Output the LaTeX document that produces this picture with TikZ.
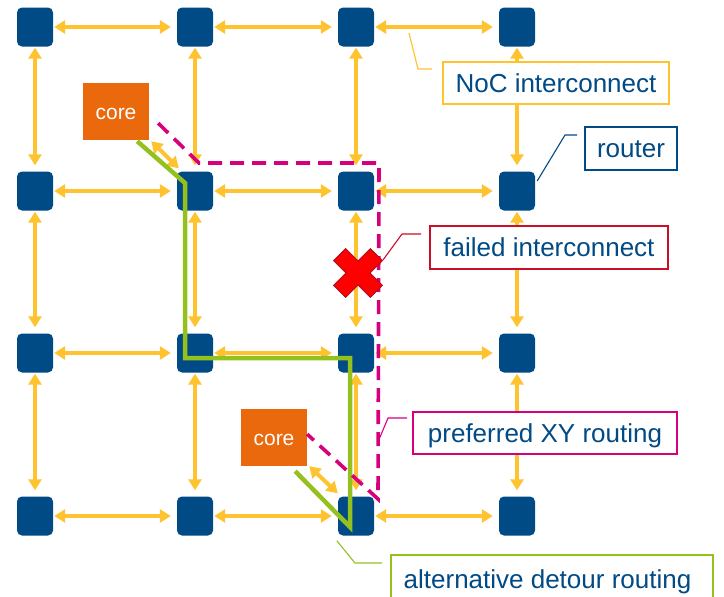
\documentclass[tikz,border=0pt]{standalone}
\usepackage{fontspec}
\setmainfont{Liberation Sans}
\usetikzlibrary{arrows.meta,calc}
\definecolor{rblue}{RGB}{0,74,133}
\definecolor{ayellow}{RGB}{254,195,46}
\definecolor{corange}{RGB}{233,105,12}
\definecolor{pmag}{RGB}{214,0,126}
\definecolor{dgreen}{RGB}{149,193,31}
\definecolor{xred}{RGB}{255,0,0}
\definecolor{fred}{RGB}{200,16,40}
\begin{document}
\begin{tikzpicture}[x=1pt,y=-1pt,
  router/.style={fill=rblue, rounded corners=5pt, minimum width=36pt, minimum height=39pt, inner sep=0pt},
  link/.style={ayellow, line width=4pt, {Triangle[width=13pt,length=11pt]}-{Triangle[width=13pt,length=11pt]}, shorten <=1pt, shorten >=6pt},
  corelink/.style={link, shorten <=0pt, shorten >=0pt},
  corebox/.style={fill=corange, text=white, font=\fontsize{21}{21}\selectfont, minimum width=66pt, minimum height=57pt, inner sep=0pt, text height=15pt, text depth=0pt},
  callout/.style={fill=white, line width=1.6pt, text=rblue, font=\fontsize{26}{26}\selectfont, inner sep=0pt, text height=18pt, text depth=0pt},
  leader/.style={line width=1.1pt},
  xyroute/.style={pmag, line width=3.6pt, dash pattern=on 14pt off 8pt},
  detour/.style={dgreen, line width=4.5pt}
]
\useasboundingbox (0,0) rectangle (724,597);

% routers
\foreach \r/\y in {1/27,2/191,3/353,4/516}{
  \foreach \c/\x in {1/35,2/195,3/356,4/517}{
    \node[router] (r\r\c) at (\x,\y) {};
  }
}
% mesh links
\foreach \r in {1,2,3,4}{
  \draw[link] (r\r1) -- (r\r2);
  \draw[link] (r\r2) -- (r\r3);
  \draw[link] (r\r3) -- (r\r4);
}
\foreach \c in {1,2,3,4}{
  \draw[link] (r1\c) -- (r2\c);
  \draw[link] (r2\c) -- (r3\c);
  \draw[link] (r3\c) -- (r4\c);
}

% cores
\node[corebox] (c1) at (116,111.5) {core};
\node[corebox] (c2) at (274,437.5) {core};
\draw[corelink] ($(c1.south east)+(2,1)$) -- ($(r22.north west)+(2,-3)$);
\draw[corelink] ($(c2.south east)+(2,0)$) -- ($(r43.north west)+(0,-3)$);

% alternative detour routing
\coordinate (g0) at ($(c1.south east)+(-12,1)$);
\coordinate (g5) at ($(c2.south east)+(-12,5)$);
\draw[detour, line join=miter] (g0) -- (185,183) -- (185,358) -- (350,358) -- (350,527) -- (g5);

% preferred XY routing
\coordinate (m0) at ($(c1.south east)+(9,-17)$);
\coordinate (m5) at ($(c2.south east)+(0,-32)$);
\draw[xyroute] (m0) -- (199,163) -- (379,163) -- (378,499) -- (m5);

% failed interconnect cross
\begin{scope}[shift={(358,273)}, rotate=45]
\filldraw[fill=xred, draw=fred!85!black, line width=0.8pt]
  (8.5,26) -- (8.5,8.5) -- (26,8.5) -- (26,-8.5) -- (8.5,-8.5) -- (8.5,-26)
  -- (-8.5,-26) -- (-8.5,-8.5) -- (-26,-8.5) -- (-26,8.5) -- (-8.5,8.5) -- (-8.5,26) -- cycle;
\end{scope}
\coordinate (xk) at (383,260);

% callouts
\node[callout, draw=ayellow, minimum width=226pt, minimum height=42pt] (noc) at (556,83) {NoC interconnect};
\node[callout, draw=rblue, minimum width=92pt, minimum height=43pt] (rt) at (631,148.5) {router};
\node[callout, draw=fred, minimum width=238pt, minimum height=43pt] (fi) at (549,247.5) {failed interconnect};
\node[callout, draw=pmag, minimum width=264pt, minimum height=42pt] (px) at (545,433) {preferred XY routing};
\node[callout, draw=dgreen, minimum width=322pt, minimum height=48pt] (ad) at (552,579) {alternative detour routing\hspace*{9pt}};

% leaders
\coordinate (l1) at ($(noc.west)+(-10,-14)$);
\draw[leader, ayellow] (409,33) -- (418,69) -- (l1);
\coordinate (l2) at ($(rt.west)+(-7,-13.5)$);
\draw[leader, rblue] ($(r24.east)+(2,-10)$) -- (565,135) -- (l2);
\coordinate (l3) at ($(fi.west)+(-8,-13.5)$);
\draw[leader, fred] (xk) -- (402,234) -- (l3);
\coordinate (l4) at ($(px.west)+(-5,-15)$);
\draw[leader, pmag] (378,442) -- (388,418) -- (l4);
\coordinate (l5) at ($(ad.west)+(-8,-16)$);
\draw[leader, dgreen] ($(r43.south west)+(-1,5)$) -- (355,563) -- (l5);
\end{tikzpicture}
\end{document}
